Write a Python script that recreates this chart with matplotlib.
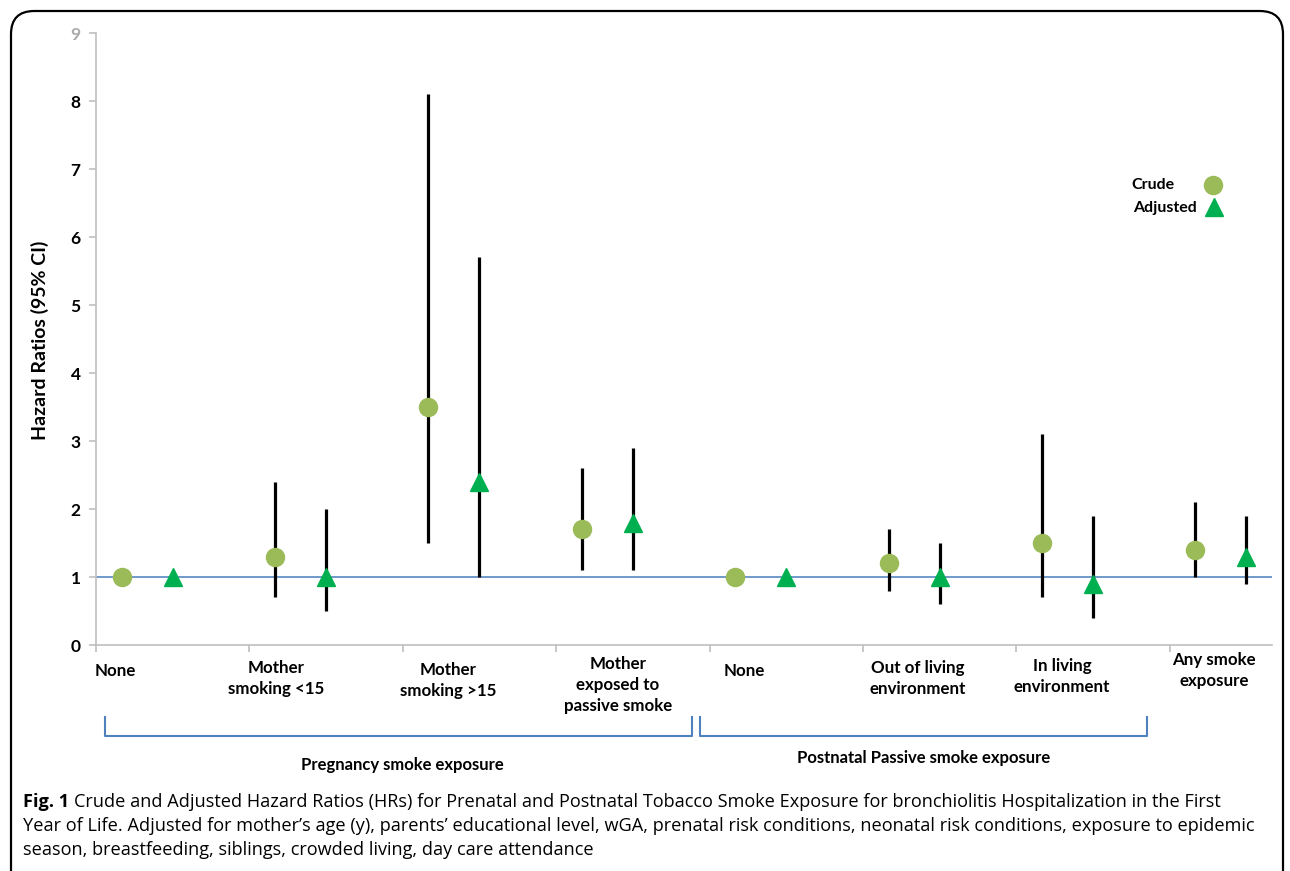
import matplotlib
matplotlib.use('Agg')
import matplotlib.pyplot as plt
from matplotlib.patches import FancyBboxPatch
from matplotlib.lines import Line2D

# data
categories = ['None', 'Mother\nsmoking <15', 'Mother\nsmoking >15', 'Mother\nexposed to\npassive smoke',
              'None', 'Out of living\nenvironment', 'In living\nenvironment', 'Any smoke\nexposure']
crude = [1.0, 1.3, 3.5, 1.7, 1.0, 1.2, 1.5, 1.4]
crude_lo = [1.0, 0.7, 1.5, 1.1, 1.0, 0.8, 0.7, 1.0]
crude_hi = [1.0, 2.4, 8.1, 2.6, 1.0, 1.7, 3.1, 2.1]
adjusted = [1.0, 1.0, 2.4, 1.8, 1.0, 1.0, 0.9, 1.3]
adj_lo = [1.0, 0.5, 1.0, 1.1, 1.0, 0.6, 0.4, 0.9]
adj_hi = [1.0, 2.0, 5.7, 2.9, 1.0, 1.5, 1.9, 1.9]
groups = ['Pregnancy smoke exposure', 'Postnatal Passive smoke exposure']

W, H = 1290, 871
def fx(x):
    return x / W
def fy(y):
    return 1 - y / H

fig = plt.figure(figsize=(12.9, 8.71), dpi=100)
ax = fig.add_axes([fx(96), fy(645), fx(1272) - fx(96), fy(33) - fy(645)])

xc = [3 * i + 0.5 for i in range(len(crude))]
xa = [3 * i + 1.5 for i in range(len(adjusted))]

ax.axhline(1, color='#4a7ebb', lw=1.1, zorder=1)
ax.vlines(xc, crude_lo, crude_hi, color='black', lw=2.3, zorder=2)
ax.vlines(xa, adj_lo, adj_hi, color='black', lw=2.3, zorder=2)
ax.plot(xc, crude, 'o', color='#9bbb59', ms=13, mec='#9bbb59', ls='none', zorder=3)
ax.plot(xa, adjusted, '^', color='#00b050', ms=12.5, mec='#00b050', ls='none', zorder=3)

ax.set_xlim(0, 23)
ax.set_ylim(0, 9)
ax.set_xticks(range(0, 22, 3))
ax.set_xticklabels([])
ax.set_yticks(range(10))
for s in ['top', 'right']:
    ax.spines[s].set_visible(False)
for s in ['left', 'bottom']:
    ax.spines[s].set_color('#bfbfbf')
    ax.spines[s].set_linewidth(1.2)
ax.tick_params(axis='both', colors='#bfbfbf', length=5, width=1.2)
for lab in ax.get_yticklabels():
    lab.set_fontfamily('Lato')
    lab.set_fontweight('bold')
    lab.set_fontsize(12.5)
    lab.set_color('black')
ax.get_yticklabels()[-1].set_color('#aaaaaa')
ax.tick_params(axis='y', pad=6)

fig.text(fx(40), fy(340), 'Hazard Ratios (95% CI)', rotation=90, ha='center', va='center',
         family='Lato', weight='bold', fontsize=14)

# category labels (placed by hand like the original text boxes)
label_x = [115, 276, 448, 618, 744, 918, 1062, 1214]
label_y = [663, 660, 662, 656, 663, 660, 658, 652]
for name, lx, ly in zip(categories, label_x, label_y):
    fig.text(fx(lx), fy(ly), name, ha='center', va='top', family='Lato', weight='bold',
             fontsize=12.2, linespacing=1.4)

# legend
fig.text(fx(1175), fy(185), 'Crude', ha='right', va='center', family='Lato', weight='bold', fontsize=11.5)
fig.text(fx(1197), fy(208), 'Adjusted', ha='right', va='center', family='Lato', weight='bold', fontsize=11.5)
fig.add_artist(Line2D([fx(1213)], [fy(185)], marker='o', color='#9bbb59', ms=13, ls='none'))
fig.add_artist(Line2D([fx(1214)], [fy(207)], marker='^', color='#00b050', ms=12.5, ls='none'))

# group brackets
brackets = [(105, 692), (700, 1147)]
for x0, x1 in brackets:
    fig.add_artist(Line2D([fx(x0), fx(x0), fx(x1), fx(x1)], [fy(717), fy(736), fy(736), fy(717)],
                          color='#4f81bd', lw=1.5))
fig.text(fx(402), fy(765), groups[0], ha='center', va='center', family='Lato', weight='bold', fontsize=12)
fig.text(fx(924), fy(758), groups[1], ha='center', va='center', family='Lato', weight='bold', fontsize=12)

# caption
cap1 = ('Crude and Adjusted Hazard Ratios (HRs) for Prenatal and Postnatal Tobacco Smoke Exposure '
        'for bronchiolitis Hospitalization in the First')
cap2 = ("Year of Life. Adjusted for mother\u2019s age (y), parents\u2019 educational level, wGA, prenatal risk "
        "conditions, neonatal risk conditions, exposure to epidemic")
cap3 = 'season, breastfeeding, siblings, crowded living, day care attendance'
cap_fs = 13.1
t = fig.text(fx(23), fy(802), 'Fig. 1', ha='left', va='center', family='Open Sans', weight='bold',
             fontsize=cap_fs)
fig.canvas.draw()
bb = t.get_window_extent()
fig.text(bb.x1 / W + 5 / W, fy(802), cap1, ha='left', va='center', family='Open Sans', fontsize=cap_fs)
fig.text(fx(23), fy(826), cap2, ha='left', va='center', family='Open Sans', fontsize=cap_fs)
fig.text(fx(23), fy(850), cap3, ha='left', va='center', family='Open Sans', fontsize=cap_fs)

# rounded frame
frame = FancyBboxPatch((fx(11), fy(895)), fx(1283) - fx(11), fy(11) - fy(895),
                       boxstyle='round,pad=0,rounding_size=0.018', transform=fig.transFigure,
                       fc='none', ec='black', lw=1.6, mutation_aspect=W / H)
fig.add_artist(frame)

fig.savefig('out.png', dpi=100)
